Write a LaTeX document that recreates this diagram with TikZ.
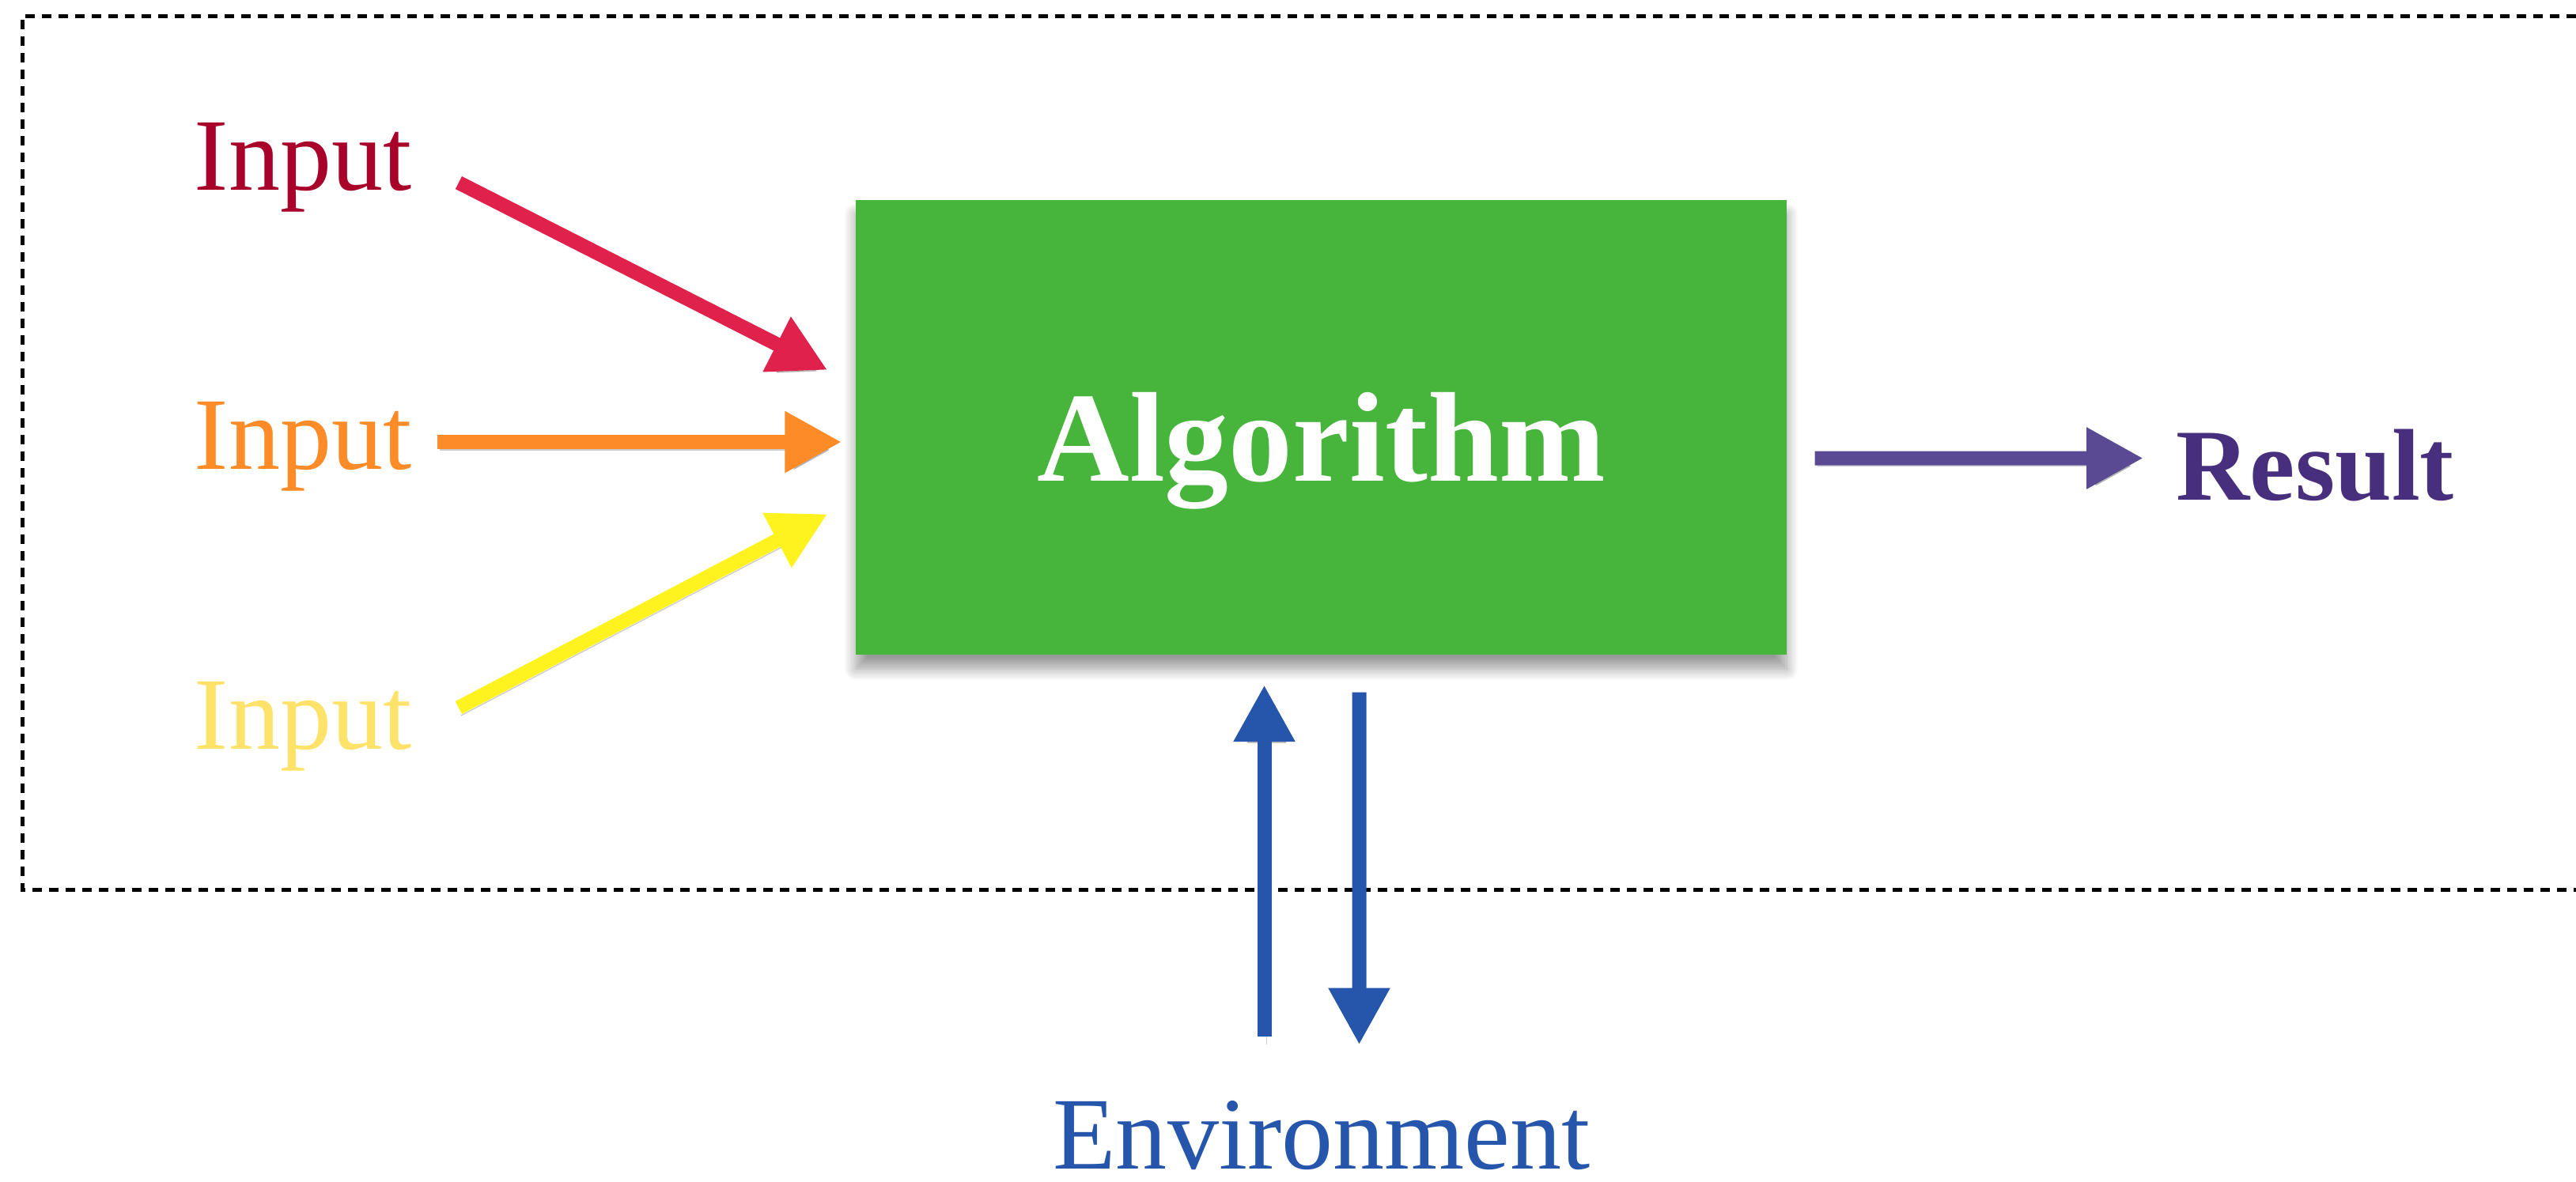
\documentclass[tikz,border=0pt]{standalone}
\usepackage{fontspec}
\setmainfont{Liberation Serif}
\usepackage{tikz}
\usetikzlibrary{arrows.meta,positioning,shadows.blur}
\usepackage{xcolor}
\definecolor{inred}{HTML}{A8022B}
\definecolor{arrred}{HTML}{E0214B}
\definecolor{inorange}{HTML}{FD8B27}
\definecolor{inyellow}{HTML}{FFE26A}
\definecolor{arryellow}{HTML}{FFF31F}
\definecolor{algogreen}{HTML}{47B43C}
\definecolor{resarr}{HTML}{5A4A93}
\definecolor{respurple}{HTML}{472F7E}
\definecolor{envblue}{HTML}{2656AB}

\begin{document}
\begin{tikzpicture}[
  inp/.style={inner sep=0pt,anchor=base west,font=\fontsize{37pt}{40pt}\selectfont},
  algo/.style={fill=algogreen,minimum width=11.77cm,minimum height=5.75cm,inner sep=0pt,
    text=white,font=\fontsize{46pt}{50pt}\selectfont\bfseries,text height=1.5cm,text depth=0.15cm,
    blur shadow={shadow xshift=0cm,shadow yshift=-0.18cm,shadow opacity=40,shadow blur radius=0.15cm,shadow blur steps=12}},
  res/.style={inner sep=0pt,anchor=base west,text=respurple,font=\fontsize{36.7pt}{40pt}\selectfont\bfseries},
  env/.style={inner sep=0pt,anchor=base,text=envblue,font=\fontsize{37pt}{40pt}\selectfont},
  frame/.style={line width=0.05cm,dash pattern=on 0.12cm off 0.09cm},
  arr/.style={-{Triangle[length=0.72cm,width=0.73cm]},line width=0.18cm,
    preaction={draw=black,opacity=0.2,transform canvas={shift={(0.03,-0.1)}}}}
]
\useasboundingbox (0,0) rectangle (32.57,-14.94);

% system boundary, open on the right
\draw[frame] (32.57,-0.205) -| (0.28,-11.25) -- (32.57,-11.25);

\node[algo] (alg) at (16.705,-5.405) {Algorithm};

\node[inp,text=inred] (in1) at (2.45,-2.40) {Input};
\node[inp,text=inorange] (in2) at (2.45,-5.93) {Input};
\node[inp,text=inyellow] (in3) at (2.45,-9.47) {Input};

\node[res] (res) at (27.51,-6.32) {Result};
\node[env] (env) at (16.71,-14.78) {Environment};

\draw[arr,arrred] ([shift={(0.59,0.09)}]in1.base east) -- ([shift={(-0.35,0.725)}]alg.west);
\draw[arr,inorange] ([shift={(0.32,0.34)}]in2.base east) -- ([shift={(-0.17,-0.185)}]alg.west);
\draw[arr,arryellow] ([shift={(0.59,0.52)}]in3.base east) -- ([shift={(-0.35,-1.095)}]alg.west);

\draw[arr,resarr] ([shift={(0.35,-0.39)}]alg.east) -- ([shift={(-0.41,0.525)}]res.base west);

\draw[arr,envblue] ([shift={(-0.725,1.67)}]env.base) -- ([shift={(-0.72,-0.375)}]alg.south);
\draw[arr,envblue] ([shift={(0.48,-0.47)}]alg.south) -- ([shift={(0.475,1.565)}]env.base);

\end{tikzpicture}
\end{document}
